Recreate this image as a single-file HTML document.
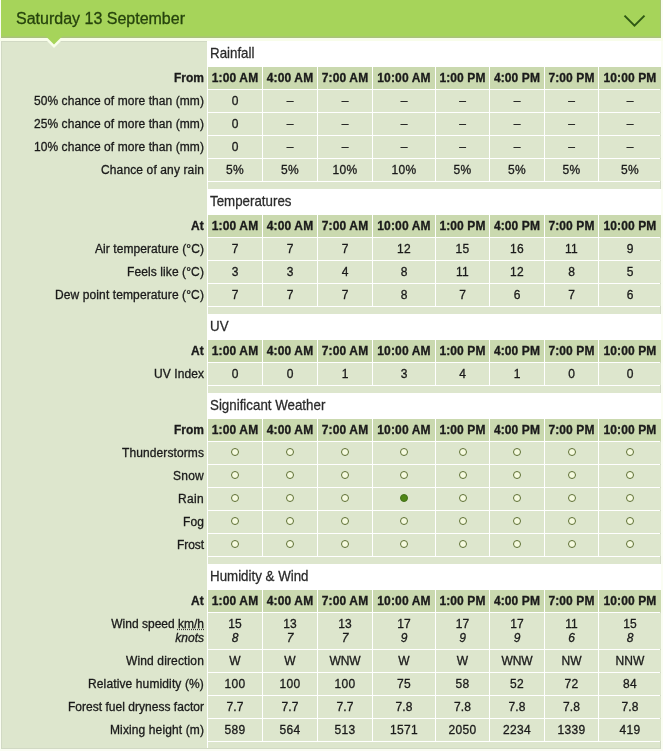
<!DOCTYPE html>
<html><head><meta charset="utf-8"><title>Saturday 13 September</title>
<style>
*{margin:0;padding:0;box-sizing:border-box}
html,body{width:663px;height:751px;overflow:hidden;background:#fafdf3}
body{position:relative;font-family:"Liberation Sans",Arial,Helvetica,sans-serif;font-size:12px;color:#1a1a1a;-webkit-text-stroke:0.3px #1a1a1a}
.hd{position:absolute;left:1px;top:0;width:660px;height:38px;background:#a6d45a;box-shadow:inset 0 -1px #a9c27b,inset 0 -2px #a9ca6c,inset -1px 0 #a9c27b}
.gap{position:absolute;left:0;top:38px;width:663px;height:3px;background:#f8fdea}
.hd h2{position:absolute;left:15px;top:10px;font-size:16px;font-weight:normal;color:#26430d;-webkit-text-stroke:0.3px #26430d;line-height:18px;white-space:nowrap}
.hd svg{position:absolute;left:622px;top:13px}
.bx{position:absolute;left:1px;top:41px;width:660px;height:708px;background:#dde6cd;border:1px solid #d1d9c4}
.w{position:absolute;background:#fff}
.t{position:absolute;font-size:13.33px;line-height:26px;height:26px;transform:scaleY(1.08);transform-origin:0 17.6px;padding-left:3px;white-space:nowrap;color:#2a2a2a;-webkit-text-stroke:0.25px #2a2a2a}
.c{position:absolute;text-align:center;white-space:nowrap;background:#dde6cd;line-height:22px;height:22px}
.h{background:#cad9af;font-weight:bold}
.l{position:absolute;left:2px;width:205px;text-align:right;padding-right:3px;white-space:nowrap;line-height:22px;height:22px}
.lb{font-weight:bold}
.o,.f{position:absolute;top:6px;left:50%;margin-left:-4px;width:8px;height:8px;border-radius:50%}
.o{border:1.4px solid #5d6f34;background:#f5fadf}
.f{background:#508716;border:1px solid #43701a}
abbr{text-decoration:underline dotted #333}
.two{line-height:14px;height:36px;padding-top:4px}
</style></head><body>
<div class="hd"><h2>Saturday 13 September</h2><svg width="24" height="16" viewBox="0 0 24 16"><path d="M1.5 2.6 L11.5 12.6 L21.5 2.6" fill="none" stroke="#2f5814" stroke-width="2"/></svg></div>
<div class="gap"></div>
<div class="bx"></div>
<div class="w" style="left:207px;top:41px;width:1px;height:707px"></div>
<svg style="position:absolute;left:0;top:0" width="100" height="60" viewBox="0 0 100 60"><polygon points="44,38 64,38 54,48" fill="#f8fdea"/><polygon points="45.5,36 62.5,36 54,44.5" fill="#a6d45a"/></svg>

<div class="w" style="left:207px;top:41px;width:453px;height:141px"></div>
<div class="w" style="left:207px;top:41px;width:454px;height:26px"></div>
<div class="t" style="left:207px;top:41px;">Rainfall</div>
<div class="l lb" style="top:67px;letter-spacing:0.000px;">From</div>
<div class="c h" style="left:208px;top:67px;width:54px;letter-spacing:0.141px;">1:00 AM</div>
<div class="c h" style="left:263px;top:67px;width:54px;letter-spacing:0.141px;">4:00 AM</div>
<div class="c h" style="left:318px;top:67px;width:54px;letter-spacing:0.141px;">7:00 AM</div>
<div class="c h" style="left:373px;top:67px;width:62px;letter-spacing:0.164px;">10:00 AM</div>
<div class="c h" style="left:436px;top:67px;width:53px;letter-spacing:0.093px;">1:00 PM</div>
<div class="c h" style="left:490px;top:67px;width:54px;letter-spacing:0.093px;">4:00 PM</div>
<div class="c h" style="left:545px;top:67px;width:53px;letter-spacing:0.093px;">7:00 PM</div>
<div class="c h" style="left:599px;top:67px;width:62px;letter-spacing:0.122px;">10:00 PM</div>
<div class="l" style="top:90px;letter-spacing:0.069px;">50% chance of more than (mm)</div>
<div class="c" style="left:208px;top:90px;width:54px;">0</div>
<div class="c" style="left:263px;top:90px;width:54px;">–</div>
<div class="c" style="left:318px;top:90px;width:54px;">–</div>
<div class="c" style="left:373px;top:90px;width:62px;">–</div>
<div class="c" style="left:436px;top:90px;width:53px;">–</div>
<div class="c" style="left:490px;top:90px;width:54px;">–</div>
<div class="c" style="left:545px;top:90px;width:53px;">–</div>
<div class="c" style="left:599px;top:90px;width:62px;">–</div>
<div class="l" style="top:113px;letter-spacing:0.069px;">25% chance of more than (mm)</div>
<div class="c" style="left:208px;top:113px;width:54px;">0</div>
<div class="c" style="left:263px;top:113px;width:54px;">–</div>
<div class="c" style="left:318px;top:113px;width:54px;">–</div>
<div class="c" style="left:373px;top:113px;width:62px;">–</div>
<div class="c" style="left:436px;top:113px;width:53px;">–</div>
<div class="c" style="left:490px;top:113px;width:54px;">–</div>
<div class="c" style="left:545px;top:113px;width:53px;">–</div>
<div class="c" style="left:599px;top:113px;width:62px;">–</div>
<div class="l" style="top:136px;letter-spacing:0.069px;">10% chance of more than (mm)</div>
<div class="c" style="left:208px;top:136px;width:54px;">0</div>
<div class="c" style="left:263px;top:136px;width:54px;">–</div>
<div class="c" style="left:318px;top:136px;width:54px;">–</div>
<div class="c" style="left:373px;top:136px;width:62px;">–</div>
<div class="c" style="left:436px;top:136px;width:53px;">–</div>
<div class="c" style="left:490px;top:136px;width:54px;">–</div>
<div class="c" style="left:545px;top:136px;width:53px;">–</div>
<div class="c" style="left:599px;top:136px;width:62px;">–</div>
<div class="l" style="top:159px;letter-spacing:0.126px;">Chance of any rain</div>
<div class="c" style="left:208px;top:159px;width:54px;letter-spacing:0.328px;">5%</div>
<div class="c" style="left:263px;top:159px;width:54px;letter-spacing:0.328px;">5%</div>
<div class="c" style="left:318px;top:159px;width:54px;letter-spacing:0.327px;">10%</div>
<div class="c" style="left:373px;top:159px;width:62px;letter-spacing:0.327px;">10%</div>
<div class="c" style="left:436px;top:159px;width:53px;letter-spacing:0.328px;">5%</div>
<div class="c" style="left:490px;top:159px;width:54px;letter-spacing:0.328px;">5%</div>
<div class="c" style="left:545px;top:159px;width:53px;letter-spacing:0.328px;">5%</div>
<div class="c" style="left:599px;top:159px;width:62px;letter-spacing:0.328px;">5%</div>
<div class="w" style="left:207px;top:189px;width:453px;height:118px"></div>
<div class="w" style="left:207px;top:189px;width:454px;height:26px"></div>
<div class="t" style="left:207px;top:189px;">Temperatures</div>
<div class="l lb" style="top:215px;letter-spacing:0.169px;">At</div>
<div class="c h" style="left:208px;top:215px;width:54px;letter-spacing:0.141px;">1:00 AM</div>
<div class="c h" style="left:263px;top:215px;width:54px;letter-spacing:0.141px;">4:00 AM</div>
<div class="c h" style="left:318px;top:215px;width:54px;letter-spacing:0.141px;">7:00 AM</div>
<div class="c h" style="left:373px;top:215px;width:62px;letter-spacing:0.164px;">10:00 AM</div>
<div class="c h" style="left:436px;top:215px;width:53px;letter-spacing:0.093px;">1:00 PM</div>
<div class="c h" style="left:490px;top:215px;width:54px;letter-spacing:0.093px;">4:00 PM</div>
<div class="c h" style="left:545px;top:215px;width:53px;letter-spacing:0.093px;">7:00 PM</div>
<div class="c h" style="left:599px;top:215px;width:62px;letter-spacing:0.122px;">10:00 PM</div>
<div class="l" style="top:238px;letter-spacing:0.075px;">Air temperature (°C)</div>
<div class="c" style="left:208px;top:238px;width:54px;">7</div>
<div class="c" style="left:263px;top:238px;width:54px;">7</div>
<div class="c" style="left:318px;top:238px;width:54px;">7</div>
<div class="c" style="left:373px;top:238px;width:62px;letter-spacing:0.326px;">12</div>
<div class="c" style="left:436px;top:238px;width:53px;letter-spacing:0.326px;">15</div>
<div class="c" style="left:490px;top:238px;width:54px;letter-spacing:0.326px;">16</div>
<div class="c" style="left:545px;top:238px;width:53px;letter-spacing:0.326px;">11</div>
<div class="c" style="left:599px;top:238px;width:62px;">9</div>
<div class="l" style="top:261px;letter-spacing:0.102px;">Feels like (°C)</div>
<div class="c" style="left:208px;top:261px;width:54px;">3</div>
<div class="c" style="left:263px;top:261px;width:54px;">3</div>
<div class="c" style="left:318px;top:261px;width:54px;">4</div>
<div class="c" style="left:373px;top:261px;width:62px;">8</div>
<div class="c" style="left:436px;top:261px;width:53px;letter-spacing:0.326px;">11</div>
<div class="c" style="left:490px;top:261px;width:54px;letter-spacing:0.326px;">12</div>
<div class="c" style="left:545px;top:261px;width:53px;">8</div>
<div class="c" style="left:599px;top:261px;width:62px;">5</div>
<div class="l" style="top:284px;letter-spacing:0.108px;">Dew point temperature (°C)</div>
<div class="c" style="left:208px;top:284px;width:54px;">7</div>
<div class="c" style="left:263px;top:284px;width:54px;">7</div>
<div class="c" style="left:318px;top:284px;width:54px;">7</div>
<div class="c" style="left:373px;top:284px;width:62px;">8</div>
<div class="c" style="left:436px;top:284px;width:53px;">7</div>
<div class="c" style="left:490px;top:284px;width:54px;">6</div>
<div class="c" style="left:545px;top:284px;width:53px;">7</div>
<div class="c" style="left:599px;top:284px;width:62px;">6</div>
<div class="w" style="left:207px;top:314px;width:453px;height:72px"></div>
<div class="w" style="left:207px;top:314px;width:454px;height:26px"></div>
<div class="t" style="left:207px;top:314px;">UV</div>
<div class="l lb" style="top:340px;letter-spacing:0.169px;">At</div>
<div class="c h" style="left:208px;top:340px;width:54px;letter-spacing:0.141px;">1:00 AM</div>
<div class="c h" style="left:263px;top:340px;width:54px;letter-spacing:0.141px;">4:00 AM</div>
<div class="c h" style="left:318px;top:340px;width:54px;letter-spacing:0.141px;">7:00 AM</div>
<div class="c h" style="left:373px;top:340px;width:62px;letter-spacing:0.164px;">10:00 AM</div>
<div class="c h" style="left:436px;top:340px;width:53px;letter-spacing:0.093px;">1:00 PM</div>
<div class="c h" style="left:490px;top:340px;width:54px;letter-spacing:0.093px;">4:00 PM</div>
<div class="c h" style="left:545px;top:340px;width:53px;letter-spacing:0.093px;">7:00 PM</div>
<div class="c h" style="left:599px;top:340px;width:62px;letter-spacing:0.122px;">10:00 PM</div>
<div class="l" style="top:363px;letter-spacing:0.080px;">UV Index</div>
<div class="c" style="left:208px;top:363px;width:54px;">0</div>
<div class="c" style="left:263px;top:363px;width:54px;">0</div>
<div class="c" style="left:318px;top:363px;width:54px;">1</div>
<div class="c" style="left:373px;top:363px;width:62px;">3</div>
<div class="c" style="left:436px;top:363px;width:53px;">4</div>
<div class="c" style="left:490px;top:363px;width:54px;">1</div>
<div class="c" style="left:545px;top:363px;width:53px;">0</div>
<div class="c" style="left:599px;top:363px;width:62px;">0</div>
<div class="w" style="left:207px;top:393px;width:453px;height:164px"></div>
<div class="w" style="left:207px;top:393px;width:454px;height:26px"></div>
<div class="t" style="left:207px;top:393px;">Significant Weather</div>
<div class="l lb" style="top:419px;letter-spacing:0.000px;">From</div>
<div class="c h" style="left:208px;top:419px;width:54px;letter-spacing:0.141px;">1:00 AM</div>
<div class="c h" style="left:263px;top:419px;width:54px;letter-spacing:0.141px;">4:00 AM</div>
<div class="c h" style="left:318px;top:419px;width:54px;letter-spacing:0.141px;">7:00 AM</div>
<div class="c h" style="left:373px;top:419px;width:62px;letter-spacing:0.164px;">10:00 AM</div>
<div class="c h" style="left:436px;top:419px;width:53px;letter-spacing:0.093px;">1:00 PM</div>
<div class="c h" style="left:490px;top:419px;width:54px;letter-spacing:0.093px;">4:00 PM</div>
<div class="c h" style="left:545px;top:419px;width:53px;letter-spacing:0.093px;">7:00 PM</div>
<div class="c h" style="left:599px;top:419px;width:62px;letter-spacing:0.122px;">10:00 PM</div>
<div class="l" style="top:442px;letter-spacing:0.100px;">Thunderstorms</div>
<div class="c" style="left:208px;top:442px;width:54px;"><span class="o"></span></div>
<div class="c" style="left:263px;top:442px;width:54px;"><span class="o"></span></div>
<div class="c" style="left:318px;top:442px;width:54px;"><span class="o"></span></div>
<div class="c" style="left:373px;top:442px;width:62px;"><span class="o"></span></div>
<div class="c" style="left:436px;top:442px;width:53px;"><span class="o"></span></div>
<div class="c" style="left:490px;top:442px;width:54px;"><span class="o"></span></div>
<div class="c" style="left:545px;top:442px;width:53px;"><span class="o"></span></div>
<div class="c" style="left:599px;top:442px;width:62px;"><span class="o"></span></div>
<div class="l" style="top:465px;letter-spacing:0.246px;">Snow</div>
<div class="c" style="left:208px;top:465px;width:54px;"><span class="o"></span></div>
<div class="c" style="left:263px;top:465px;width:54px;"><span class="o"></span></div>
<div class="c" style="left:318px;top:465px;width:54px;"><span class="o"></span></div>
<div class="c" style="left:373px;top:465px;width:62px;"><span class="o"></span></div>
<div class="c" style="left:436px;top:465px;width:53px;"><span class="o"></span></div>
<div class="c" style="left:490px;top:465px;width:54px;"><span class="o"></span></div>
<div class="c" style="left:545px;top:465px;width:53px;"><span class="o"></span></div>
<div class="c" style="left:599px;top:465px;width:62px;"><span class="o"></span></div>
<div class="l" style="top:488px;letter-spacing:0.330px;">Rain</div>
<div class="c" style="left:208px;top:488px;width:54px;"><span class="o"></span></div>
<div class="c" style="left:263px;top:488px;width:54px;"><span class="o"></span></div>
<div class="c" style="left:318px;top:488px;width:54px;"><span class="o"></span></div>
<div class="c" style="left:373px;top:488px;width:62px;"><span class="f"></span></div>
<div class="c" style="left:436px;top:488px;width:53px;"><span class="o"></span></div>
<div class="c" style="left:490px;top:488px;width:54px;"><span class="o"></span></div>
<div class="c" style="left:545px;top:488px;width:53px;"><span class="o"></span></div>
<div class="c" style="left:599px;top:488px;width:62px;"><span class="o"></span></div>
<div class="l" style="top:511px;letter-spacing:0.107px;">Fog</div>
<div class="c" style="left:208px;top:511px;width:54px;"><span class="o"></span></div>
<div class="c" style="left:263px;top:511px;width:54px;"><span class="o"></span></div>
<div class="c" style="left:318px;top:511px;width:54px;"><span class="o"></span></div>
<div class="c" style="left:373px;top:511px;width:62px;"><span class="o"></span></div>
<div class="c" style="left:436px;top:511px;width:53px;"><span class="o"></span></div>
<div class="c" style="left:490px;top:511px;width:54px;"><span class="o"></span></div>
<div class="c" style="left:545px;top:511px;width:53px;"><span class="o"></span></div>
<div class="c" style="left:599px;top:511px;width:62px;"><span class="o"></span></div>
<div class="l" style="top:534px;letter-spacing:-0.067px;">Frost</div>
<div class="c" style="left:208px;top:534px;width:54px;"><span class="o"></span></div>
<div class="c" style="left:263px;top:534px;width:54px;"><span class="o"></span></div>
<div class="c" style="left:318px;top:534px;width:54px;"><span class="o"></span></div>
<div class="c" style="left:373px;top:534px;width:62px;"><span class="o"></span></div>
<div class="c" style="left:436px;top:534px;width:53px;"><span class="o"></span></div>
<div class="c" style="left:490px;top:534px;width:54px;"><span class="o"></span></div>
<div class="c" style="left:545px;top:534px;width:53px;"><span class="o"></span></div>
<div class="c" style="left:599px;top:534px;width:62px;"><span class="o"></span></div>
<div class="w" style="left:207px;top:564px;width:453px;height:178px"></div>
<div class="w" style="left:207px;top:564px;width:454px;height:26px"></div>
<div class="t" style="left:207px;top:564px;">Humidity &amp; Wind</div>
<div class="l lb" style="top:590px;letter-spacing:0.169px;">At</div>
<div class="c h" style="left:208px;top:590px;width:54px;letter-spacing:0.141px;">1:00 AM</div>
<div class="c h" style="left:263px;top:590px;width:54px;letter-spacing:0.141px;">4:00 AM</div>
<div class="c h" style="left:318px;top:590px;width:54px;letter-spacing:0.141px;">7:00 AM</div>
<div class="c h" style="left:373px;top:590px;width:62px;letter-spacing:0.164px;">10:00 AM</div>
<div class="c h" style="left:436px;top:590px;width:53px;letter-spacing:0.093px;">1:00 PM</div>
<div class="c h" style="left:490px;top:590px;width:54px;letter-spacing:0.093px;">4:00 PM</div>
<div class="c h" style="left:545px;top:590px;width:53px;letter-spacing:0.093px;">7:00 PM</div>
<div class="c h" style="left:599px;top:590px;width:62px;letter-spacing:0.122px;">10:00 PM</div>
<div class="l two" style="top:613px">Wind speed <abbr>km/h</abbr><br><i>knots</i></div>
<div class="c two" style="left:208px;top:613px;width:54px">15<br><i>8</i></div>
<div class="c two" style="left:263px;top:613px;width:54px">13<br><i>7</i></div>
<div class="c two" style="left:318px;top:613px;width:54px">13<br><i>7</i></div>
<div class="c two" style="left:373px;top:613px;width:62px">17<br><i>9</i></div>
<div class="c two" style="left:436px;top:613px;width:53px">17<br><i>9</i></div>
<div class="c two" style="left:490px;top:613px;width:54px">17<br><i>9</i></div>
<div class="c two" style="left:545px;top:613px;width:53px">11<br><i>6</i></div>
<div class="c two" style="left:599px;top:613px;width:62px">15<br><i>8</i></div>
<div class="l" style="top:650px;letter-spacing:0.141px;">Wind direction</div>
<div class="c" style="left:208px;top:650px;width:54px;">W</div>
<div class="c" style="left:263px;top:650px;width:54px;">W</div>
<div class="c" style="left:318px;top:650px;width:54px;letter-spacing:-0.106px;">WNW</div>
<div class="c" style="left:373px;top:650px;width:62px;">W</div>
<div class="c" style="left:436px;top:650px;width:53px;">W</div>
<div class="c" style="left:490px;top:650px;width:54px;letter-spacing:-0.106px;">WNW</div>
<div class="c" style="left:545px;top:650px;width:53px;letter-spacing:0.004px;">NW</div>
<div class="c" style="left:599px;top:650px;width:62px;letter-spacing:0.114px;">NNW</div>
<div class="l" style="top:673px;letter-spacing:0.125px;">Relative humidity (%)</div>
<div class="c" style="left:208px;top:673px;width:54px;letter-spacing:0.326px;">100</div>
<div class="c" style="left:263px;top:673px;width:54px;letter-spacing:0.326px;">100</div>
<div class="c" style="left:318px;top:673px;width:54px;letter-spacing:0.326px;">100</div>
<div class="c" style="left:373px;top:673px;width:62px;letter-spacing:0.326px;">75</div>
<div class="c" style="left:436px;top:673px;width:53px;letter-spacing:0.326px;">58</div>
<div class="c" style="left:490px;top:673px;width:54px;letter-spacing:0.326px;">52</div>
<div class="c" style="left:545px;top:673px;width:53px;letter-spacing:0.326px;">72</div>
<div class="c" style="left:599px;top:673px;width:62px;letter-spacing:0.326px;">84</div>
<div class="l" style="top:696px;letter-spacing:0.024px;">Forest fuel dryness factor</div>
<div class="c" style="left:208px;top:696px;width:54px;letter-spacing:0.106px;">7.7</div>
<div class="c" style="left:263px;top:696px;width:54px;letter-spacing:0.106px;">7.7</div>
<div class="c" style="left:318px;top:696px;width:54px;letter-spacing:0.106px;">7.7</div>
<div class="c" style="left:373px;top:696px;width:62px;letter-spacing:0.106px;">7.8</div>
<div class="c" style="left:436px;top:696px;width:53px;letter-spacing:0.106px;">7.8</div>
<div class="c" style="left:490px;top:696px;width:54px;letter-spacing:0.106px;">7.8</div>
<div class="c" style="left:545px;top:696px;width:53px;letter-spacing:0.106px;">7.8</div>
<div class="c" style="left:599px;top:696px;width:62px;letter-spacing:0.106px;">7.8</div>
<div class="l" style="top:719px;letter-spacing:0.116px;">Mixing height (m)</div>
<div class="c" style="left:208px;top:719px;width:54px;letter-spacing:0.326px;">589</div>
<div class="c" style="left:263px;top:719px;width:54px;letter-spacing:0.326px;">564</div>
<div class="c" style="left:318px;top:719px;width:54px;letter-spacing:0.326px;">513</div>
<div class="c" style="left:373px;top:719px;width:62px;letter-spacing:0.326px;">1571</div>
<div class="c" style="left:436px;top:719px;width:53px;letter-spacing:0.326px;">2050</div>
<div class="c" style="left:490px;top:719px;width:54px;letter-spacing:0.326px;">2234</div>
<div class="c" style="left:545px;top:719px;width:53px;letter-spacing:0.326px;">1339</div>
<div class="c" style="left:599px;top:719px;width:62px;letter-spacing:0.326px;">419</div>
</body></html>
